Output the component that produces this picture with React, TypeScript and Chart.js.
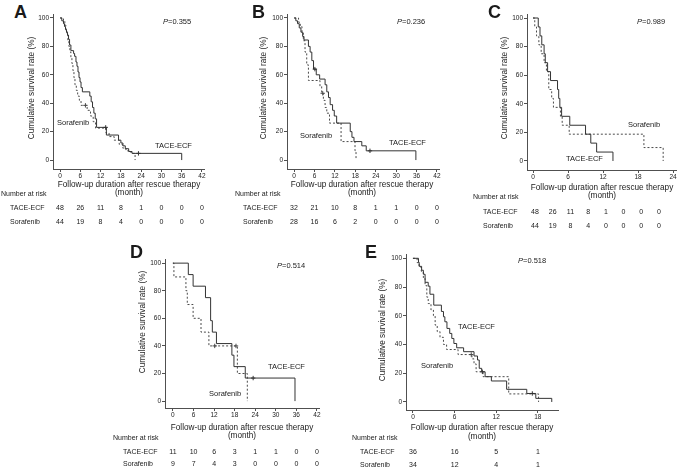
import React, { useEffect, useRef } from 'react';
import { Chart, registerables } from 'chart.js';
Chart.register(...registerables);

const FONT = '"Liberation Sans", Arial, Helvetica, sans-serif';
const TEXT = '#1a1a1a';
const AXIS = '#505050';
const SOLID = '#333333';
const DASH = '#4a4a4a';

// ---------------- data ----------------
const Y_TICKS = [0, 20, 40, 60, 80, 100];
const X_TICKS_42 = [0, 6, 12, 18, 24, 30, 36, 42];
const X_TICKS_24 = [0, 6, 12, 18, 24];
const X_TICKS_18 = [0, 6, 12, 18];

const P_VALUES = ['0.355', '0.236', '0.989', '0.514', '0.518'];
const GROUPS = ['TACE-ECF', 'Sorafenib'];

// Panel A
const A_TACE_T = [0, 0.5, 1.0, 1.3, 1.6, 1.9, 2.2, 2.5, 2.8, 3.2, 4.0, 4.3, 4.7, 5.0, 5.3, 5.6, 5.9, 6.2, 6.6, 8.8, 9.2, 9.6, 10.0, 10.4, 10.8, 13.7, 17.3, 18.0, 18.6, 19.3, 20.3, 21.3, 36];
const A_TACE_S = [100, 98, 96, 94, 92, 90, 88, 85, 81, 77, 75, 73, 69, 66, 62, 58, 55, 51, 48, 45, 41, 37, 33, 29, 23, 17.6, 14, 12, 10, 8, 6, 4.7, 0];
const A_TACE_C = [13.5, 23.2];
const A_SORA_T = [0, 1.0, 1.4, 1.7, 2.0, 2.3, 2.6, 2.9, 3.2, 3.5, 3.8, 4.1, 4.4, 4.8, 5.2, 5.7, 6.2, 8.0, 9.0, 9.8, 10.5, 13.6, 14.5, 16.0, 17.5, 18.5, 19.5, 21.0, 22.2];
const A_SORA_S = [100, 98, 95, 91, 88, 84, 80, 76, 72, 68, 63, 58, 53, 49, 45, 42, 38.5, 35, 31, 27, 22.5, 19, 16.5, 14, 11, 8.5, 6.5, 4.7, 0];
const A_SORA_C = [7.5];
const A_RISK_TACE = [48, 26, 11, 8, 1, 0, 0, 0];
const A_RISK_SORA = [44, 19, 8, 4, 0, 0, 0, 0];

// Panel B
const B_TACE_T = [0, 0.5, 1.0, 1.5, 2.0, 2.5, 2.9, 4.2, 4.7, 5.2, 5.7, 6.5, 7.5, 9.1, 9.6, 10.1, 10.6, 11.3, 11.8, 12.5, 16.5, 17.0, 17.6, 19.9, 21.2, 35.8];
const B_TACE_S = [100, 98, 96, 93, 90, 87, 84.5, 80, 76, 70, 64, 60, 57, 53, 48, 44, 39, 35, 31, 26, 20, 16, 13, 10, 6.5, 0];
const B_TACE_C = [6.1, 22.3];
const B_SORA_T = [0, 1.3, 1.8, 2.3, 2.7, 3.2, 3.7, 4.2, 7.6, 8.1, 8.6, 9.1, 9.6, 10.4, 13.8, 17.9, 18.2];
const B_SORA_S = [100, 97, 94, 90, 84, 76, 67, 56, 52, 47, 42, 37, 33, 26, 13, 6.5, 0];
const B_SORA_C = [8.4];
const B_RISK_TACE = [32, 21, 10, 8, 1, 1, 0, 0];
const B_RISK_SORA = [28, 16, 6, 2, 0, 0, 0, 0];

// Panel C
const C_TACE_T = [0, 0.9, 1.2, 1.5, 1.9, 2.1, 2.5, 3.0, 4.2, 4.4, 4.6, 4.9, 6.3, 9.0, 9.9, 10.9, 13.7];
const C_TACE_S = [100, 93.75, 87.5, 81.25, 75, 68.75, 62.5, 56.25, 50, 43.75, 37.5, 31.25, 25, 18.75, 12.5, 6.25, 0];
const C_TACE_C: number[] = [];
const C_SORA_T = [0, 0.3, 0.6, 1.0, 1.4, 1.9, 2.3, 2.7, 3.2, 3.5, 4.7, 5.0, 6.2, 19.0, 22.3];
const C_SORA_S = [100, 93.75, 87.5, 81.25, 75, 68.75, 62.5, 50, 43.75, 37.5, 31.25, 25, 18.75, 9.4, 0];
const C_SORA_C: number[] = [];
const C_RISK_TACE = [48, 26, 11, 8, 1, 0, 0, 0];
const C_RISK_SORA = [44, 19, 8, 4, 0, 0, 0, 0];

// Panel D
const D_TACE_T = [0, 4.5, 5.9, 9.5, 11.0, 11.5, 12.7, 17.2, 17.8, 21.1, 35.6];
const D_TACE_S = [100, 91.7, 83.3, 75, 58.3, 50, 41.7, 33.3, 25, 16.7, 0];
const D_TACE_C = [23.4];
const D_SORA_T = [0, 0.3, 3.8, 4.2, 5.9, 8.2, 10.5, 18.8, 21.7];
const D_SORA_S = [100, 90, 80, 70, 60, 50, 40, 20, 0];
const D_SORA_C = [12.2, 18.4];
const D_RISK_TACE = [11, 10, 6, 3, 1, 1, 0, 0];
const D_RISK_SORA = [9, 7, 4, 3, 0, 0, 0, 0];

// Panel E
const E_TACE_T = [0, 0.8, 0.9, 1.25, 1.5, 1.75, 2.2, 2.45, 3.0, 4.1, 4.4, 4.6, 4.9, 5.3, 5.6, 5.9, 6.3, 7.3, 8.8, 9.3, 9.55, 9.9, 10.4, 11.3, 13.5, 16.4, 17.7, 20.0];
const E_TACE_S = [100, 97.2, 94.4, 91.7, 88.9, 83.3, 80.6, 75, 67.4, 63, 59.3, 55.8, 51.2, 47.7, 44.2, 40.7, 37.7, 35, 32, 29.2, 23.4, 21, 17.6, 14.6, 8.8, 5.9, 2.5, 0];
const E_TACE_C = [10.0, 17.2];
const E_SORA_T = [0, 0.6, 0.9, 1.2, 1.5, 1.75, 2.0, 2.2, 2.6, 2.95, 3.2, 3.5, 3.9, 4.4, 4.85, 6.5, 8.5, 8.8, 9.1, 10.1, 13.8, 18.1];
const E_SORA_S = [100, 97, 94, 91, 86, 81, 73, 68.5, 64, 60, 53.5, 49, 45, 40, 36.5, 33, 30, 26.5, 21, 17.6, 5.6, 0];
const E_SORA_C = [8.4];
const E_RISK_TACE = [36, 16, 5, 1];
const E_RISK_SORA = [34, 12, 4, 1];

// ---------------- helpers ----------------
type Curve = { t: number[]; s: number[]; c: number[]; dashed: boolean };
type Geom = { x0: number; kx: number; xMin: number; xMax: number; y0: number; ky: number; yMin: number; yMax: number };

const survAt = (cv: Curve, x: number) => {
  let v = cv.s[0];
  for (let i = 0; i < cv.t.length; i++) if (cv.t[i] <= x) v = cv.s[i];
  return v;
};

const Y_W = 24, PAD_T = 8, PAD_R = 8, X_H = 16;

function KMChart({ g, xTicks, curves }: { g: Geom; xTicks: number[]; curves: Curve[] }) {
  const ref = useRef<HTMLCanvasElement>(null);
  const left = Math.round(g.x0 + g.xMin * g.kx);
  const right = Math.round(g.x0 + g.xMax * g.kx);
  const top = Math.round(g.y0 - g.yMax * g.ky);
  const bottom = Math.round(g.y0 - g.yMin * g.ky);
  const w = right - left + Y_W + PAD_R;
  const h = bottom - top + PAD_T + X_H;
  useEffect(() => {
    const datasets: any[] = [];
    curves.forEach((cv) => {
      const col = cv.dashed ? DASH : SOLID;
      datasets.push({
        type: 'line',
        data: cv.t.map((x, i) => ({ x, y: cv.s[i] })),
        borderColor: col,
        borderWidth: 1,
        borderDash: cv.dashed ? [2, 2] : [],
        stepped: 'before',
        pointRadius: 0,
        fill: false,
      });
      if (cv.c.length) {
        datasets.push({
          type: 'scatter',
          data: cv.c.map((x) => ({ x, y: survAt(cv, x) })),
          showLine: false,
          pointStyle: 'cross',
          pointRadius: 2.2,
          borderColor: col,
          borderWidth: 1,
        });
      }
    });
    const tickFont = { family: FONT, size: 6.5 };
    const chart = new Chart(ref.current as HTMLCanvasElement, {
      type: 'line',
      data: { datasets },
      options: {
        animation: false,
        responsive: false,
        devicePixelRatio: 1,
        events: [],
        layout: { padding: { top: PAD_T, right: PAD_R, left: 0, bottom: 0 } },
        plugins: { legend: { display: false }, tooltip: { enabled: false } },
        scales: {
          x: {
            type: 'linear',
            min: g.xMin,
            max: g.xMax,
            afterBuildTicks: (s: any) => { s.ticks = xTicks.map((v) => ({ value: v })); },
            afterFit: (s: any) => { s.height = X_H; },
            ticks: { font: tickFont, color: TEXT, padding: 0, maxRotation: 0, autoSkip: false },
            grid: { drawOnChartArea: false, drawTicks: true, tickLength: 3, color: AXIS },
            border: { display: true, color: AXIS, width: 1 },
          },
          y: {
            type: 'linear',
            min: g.yMin,
            max: g.yMax,
            afterBuildTicks: (s: any) => { s.ticks = Y_TICKS.map((v) => ({ value: v })); },
            afterFit: (s: any) => { s.width = Y_W; },
            ticks: { font: tickFont, color: TEXT, padding: 1, autoSkip: false },
            grid: { drawOnChartArea: false, drawTicks: true, tickLength: 3, color: AXIS },
            border: { display: true, color: AXIS, width: 1 },
          },
        },
      } as any,
    });
    return () => chart.destroy();
  }, []);
  return (
    <canvas
      ref={ref}
      width={w}
      height={h}
      style={{ position: 'absolute', left: left - Y_W, top: top - PAD_T, width: w, height: h }}
    />
  );
}

function Txt({ x, y, size, align = 'left', weight = 'normal', children }: any) {
  return (
    <div
      style={{
        position: 'absolute', left: x, top: y - size * 0.5, fontFamily: FONT, fontSize: size,
        lineHeight: `${size}px`, fontWeight: weight, color: TEXT, whiteSpace: 'nowrap',
        transform: align === 'center' ? 'translateX(-50%)' : undefined,
      }}
    >
      {children}
    </div>
  );
}

function YTitle({ x, y }: { x: number; y: number }) {
  const W = 140, H = 10;
  return (
    <div
      style={{
        position: 'absolute', left: Math.round(x - W / 2), top: Math.round(y - H / 2), width: W, height: H,
        fontFamily: FONT, fontSize: 8.2, lineHeight: `${H}px`, textAlign: 'center',
        color: TEXT, whiteSpace: 'nowrap', transform: 'rotate(-90deg)', zIndex: 2,
      }}
    >
      Cumulative survival rate (%)
    </div>
  );
}

type PanelCfg = {
  letter: string; lx: number; ly: number;
  g: Geom; xTicks: number[]; curves: Curve[];
  p: string; px: number; py: number;
  ytx: number; yty: number;
  xtx: number; xty: number; mty: number;
  narx: number; nary: number;
  rowx: number; rowy: number[];
  riskX: number[]; risk: number[][];
  tLab: [number, number]; sLab: [number, number];
};

const gA: Geom = { x0: 60, kx: 3.381, xMin: -2.1, xMax: 42.6, y0: 160, ky: 1.42, yMin: -6.3, yMax: 102.8 };
const gB: Geom = { x0: 294, kx: 3.405, xMin: -2.1, xMax: 42.6, y0: 160, ky: 1.42, yMin: -6.3, yMax: 102.8 };
const gC: Geom = { x0: 533, kx: 5.833, xMin: -1.03, xMax: 24.5, y0: 161, ky: 1.43, yMin: -6.3, yMax: 102.8 };
const gD: Geom = { x0: 173, kx: 3.43, xMin: -2.3, xMax: 42.6, y0: 401, ky: 1.38, yMin: -5, yMax: 103 };
const gE: Geom = { x0: 413, kx: 6.944, xMin: -1.0, xMax: 20.9, y0: 402, ky: 1.44, yMin: -5.6, yMax: 103 };

const tickPx = (g: Geom, ticks: number[]) => ticks.map((v) => g.x0 + v * g.kx);
const evenPx = (a: number, b: number, n: number) => Array.from({ length: n }, (_, i) => a + ((b - a) * i) / (n - 1));

const PANELS: PanelCfg[] = [
  {
    letter: 'A', lx: 14, ly: 12, g: gA, xTicks: X_TICKS_42,
    curves: [
      { t: A_TACE_T, s: A_TACE_S, c: A_TACE_C, dashed: false },
      { t: A_SORA_T, s: A_SORA_S, c: A_SORA_C, dashed: true },
    ],
    p: P_VALUES[0], px: 163, py: 22, ytx: 32, yty: 88, xtx: 129, xty: 185.5, mty: 193.5,
    narx: 1, nary: 193.5, rowx: 10, rowy: [207, 221], riskX: tickPx(gA, X_TICKS_42),
    risk: [A_RISK_TACE, A_RISK_SORA], tLab: [155, 146], sLab: [57, 123],
  },
  {
    letter: 'B', lx: 252, ly: 12, g: gB, xTicks: X_TICKS_42,
    curves: [
      { t: B_TACE_T, s: B_TACE_S, c: B_TACE_C, dashed: false },
      { t: B_SORA_T, s: B_SORA_S, c: B_SORA_C, dashed: true },
    ],
    p: P_VALUES[1], px: 397, py: 22, ytx: 264, yty: 88, xtx: 362, xty: 185.5, mty: 193.5,
    narx: 235, nary: 193.5, rowx: 243, rowy: [207, 221], riskX: tickPx(gB, X_TICKS_42),
    risk: [B_RISK_TACE, B_RISK_SORA], tLab: [389, 143], sLab: [300, 136],
  },
  {
    letter: 'C', lx: 488, ly: 12, g: gC, xTicks: X_TICKS_24,
    curves: [
      { t: C_TACE_T, s: C_TACE_S, c: C_TACE_C, dashed: false },
      { t: C_SORA_T, s: C_SORA_S, c: C_SORA_C, dashed: true },
    ],
    p: P_VALUES[2], px: 637, py: 22, ytx: 505, yty: 88, xtx: 602, xty: 188.5, mty: 196.5,
    narx: 473, nary: 196, rowx: 483, rowy: [211, 225], riskX: evenPx(535, 659, 8),
    risk: [C_RISK_TACE, C_RISK_SORA], tLab: [566, 159], sLab: [628, 125],
  },
  {
    letter: 'D', lx: 130, ly: 251.5, g: gD, xTicks: X_TICKS_42,
    curves: [
      { t: D_TACE_T, s: D_TACE_S, c: D_TACE_C, dashed: false },
      { t: D_SORA_T, s: D_SORA_S, c: D_SORA_C, dashed: true },
    ],
    p: P_VALUES[3], px: 277, py: 266, ytx: 143, yty: 322, xtx: 242, xty: 428, mty: 436,
    narx: 113, nary: 437, rowx: 123, rowy: [451, 463.5], riskX: tickPx(gD, X_TICKS_42),
    risk: [D_RISK_TACE, D_RISK_SORA], tLab: [268, 367], sLab: [209, 394],
  },
  {
    letter: 'E', lx: 365, ly: 251.5, g: gE, xTicks: X_TICKS_18,
    curves: [
      { t: E_TACE_T, s: E_TACE_S, c: E_TACE_C, dashed: false },
      { t: E_SORA_T, s: E_SORA_S, c: E_SORA_C, dashed: true },
    ],
    p: P_VALUES[4], px: 518, py: 261, ytx: 383, yty: 330, xtx: 482, xty: 428, mty: 437,
    narx: 352, nary: 437, rowx: 360, rowy: [451, 464.5], riskX: tickPx(gE, X_TICKS_18),
    risk: [E_RISK_TACE, E_RISK_SORA], tLab: [458, 327], sLab: [421, 366],
  },
];

export default function App() {
  return (
    <div style={{ position: 'absolute', left: 0, top: 0, width: 680, height: 468, background: '#fff', overflow: 'hidden' }}>
      {PANELS.map((pn) => (
        <React.Fragment key={pn.letter}>
          <KMChart g={pn.g} xTicks={pn.xTicks} curves={pn.curves} />
          <Txt x={pn.lx} y={pn.ly} size={18} weight="bold">{pn.letter}</Txt>
          <Txt x={pn.px} y={pn.py} size={7.5}><i>P</i>={pn.p}</Txt>
          <YTitle x={pn.ytx} y={pn.yty} />
          <Txt x={pn.xtx} y={pn.xty} size={8.2} align="center">Follow-up duration after rescue therapy</Txt>
          <Txt x={pn.xtx} y={pn.mty} size={8.2} align="center">(month)</Txt>
          <Txt x={pn.narx} y={pn.nary} size={7}>Number at risk</Txt>
          {GROUPS.map((gr, gi) => (
            <React.Fragment key={gr}>
              <Txt x={pn.rowx} y={pn.rowy[gi]} size={7}>{gr}</Txt>
              {pn.risk[gi].map((n, i) => (
                <Txt key={i} x={pn.riskX[i]} y={pn.rowy[gi]} size={7} align="center">{n}</Txt>
              ))}
            </React.Fragment>
          ))}
          <Txt x={pn.tLab[0]} y={pn.tLab[1]} size={7.5}>TACE-ECF</Txt>
          <Txt x={pn.sLab[0]} y={pn.sLab[1]} size={7.5}>Sorafenib</Txt>
        </React.Fragment>
      ))}
    </div>
  );
}
